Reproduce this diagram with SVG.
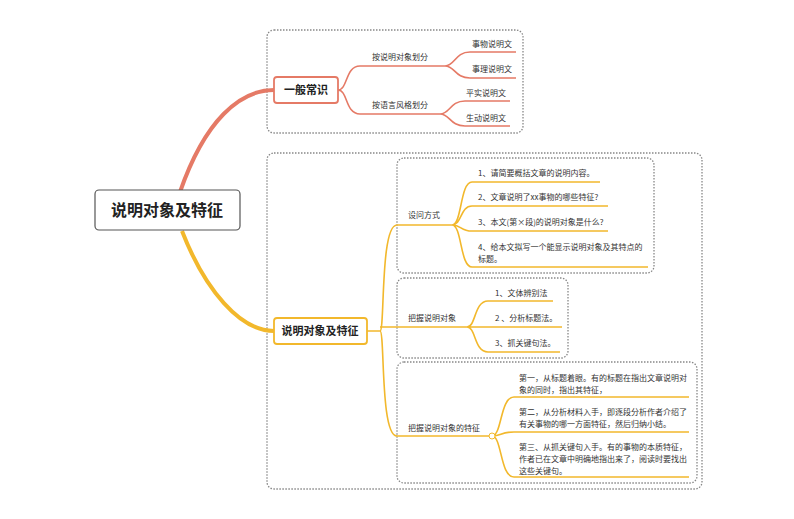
<svg xmlns="http://www.w3.org/2000/svg" width="794" height="519" viewBox="0 0 794 519">
<style>
text{font-family:"Noto Sans CJK SC","Noto Sans",sans-serif;fill:#333;font-size:8px}
.grp{fill:none;stroke:#888;stroke-width:1.3;stroke-dasharray:1.5 1.5}
.r{fill:none;stroke:#e57a66;stroke-width:1.6}
.o{fill:none;stroke:#f2b82c;stroke-width:1.6}
.big{font-size:11px;font-weight:bold;fill:#222}
</style>
<rect width="794" height="519" fill="#fff"/>
<g id="groups">
<rect class="grp" x="267" y="30" width="256" height="103" rx="7"/>
<rect class="grp" x="267" y="153" width="435" height="336" rx="7"/>
<rect class="grp" x="397" y="158" width="257" height="115" rx="7"/>
<rect class="grp" x="397" y="278" width="171" height="80" rx="7"/>
<rect class="grp" x="397" y="362" width="300" height="121" rx="7"/>
</g>
<g id="connectors">
<path d="M180 192 C205 120 240 90 274 90" fill="none" stroke="#e57a66" stroke-width="4"/>
<path d="M182 231 C205 290 240 331 274 331" fill="none" stroke="#f2b82c" stroke-width="4"/>
<path class="r" d="M338 90 C348 90 345 66 360 66 L445 66 C455 66 455 52 470 52 L516 52 M445 66 C455 66 455 78 470 78 L516 78"/>
<path class="r" d="M338 90 C348 90 345 114 360 114 L440 114 C450 114 450 101 465 101 L510 101 M440 114 C450 114 450 126 465 126 L510 126"/>
<path class="o" d="M367 331 L380 331 M380 331 C385 331 380 225 397 225 L452 225 M380 331 C385 331 380 436 397 436 L492 436 M380 327 L467 327"/>
<path class="o" d="M452 225 C462 225 460 182 472 182 L600 182 M452 225 C462 225 460 206 472 206 L608 206 M452 225 C462 225 460 231 472 231 L608 231 M452 225 C462 225 460 267 472 267 L648 267"/>
<path class="o" d="M467 327 C476 327 474 301 488 301 L553 301 M467 327 L562 327 M467 327 C476 327 474 352 488 352 L560 352"/>
<path class="o" d="M492 436 C502 436 500 397 514 397 L689 397 M492 436 C502 436 500 432 514 432 L689 432 M492 436 C502 436 500 477 514 477 L689 477"/>
<circle cx="492" cy="436" r="3" fill="#fff" stroke="#f2b82c" stroke-width="1"/>
</g>
<g id="root"><rect x="95" y="190" width="145" height="40" rx="4" fill="#fff" stroke="#555" stroke-width="1.2"/><text x="167" y="216" text-anchor="middle" style="font-size:16px;font-weight:bold;fill:#222">说明对象及特征</text></g>
<g id="n1"><rect x="274" y="77" width="64" height="26" rx="3" fill="#fff" stroke="#e57a66" stroke-width="1.8"/><text class="big" x="306" y="94" text-anchor="middle">一般常识</text></g>
<g id="n2"><rect x="274" y="318" width="93" height="26" rx="3" fill="#fff" stroke="#f2b82c" stroke-width="1.8"/><text class="big" x="320" y="335" text-anchor="middle">说明对象及特征</text></g>
<g id="labels">
<text x="372" y="60">按说明对象划分</text>
<text x="472" y="47">事物说明文</text>
<text x="472" y="72">事理说明文</text>
<text x="372" y="108">按语言风格划分</text>
<text x="466" y="96">平实说明文</text>
<text x="466" y="121">生动说明文</text>
<text x="408" y="218">设问方式</text>
<text x="478" y="176">1、请简要概括文章的说明内容。</text>
<text x="478" y="200">2、文章说明了xx事物的哪些特征?</text>
<text x="478" y="225">3、本文(第×段)的说明对象是什么?</text>
<text x="478" y="250">4、给本文拟写一个能显示说明对象及其特点的</text>
<text x="478" y="262">标题。</text>
<text x="408" y="321">把握说明对象</text>
<text x="495" y="296">1、文体辨别法</text>
<text x="495" y="321">2 、分析标题法。</text>
<text x="495" y="346">3、抓关键句法。</text>
<text x="408" y="431">把握说明对象的特征</text>
<text x="519" y="381">第一，从标题着眼。有的标题在指出文章说明对</text>
<text x="519" y="393">象的同时，指出其特征，</text>
<text x="519" y="415">第二，从分析材料入手，即逐段分析作者介绍了</text>
<text x="519" y="427">有关事物的哪一方面特征，然后归纳小结。</text>
<text x="519" y="450">第三、从抓关键句入手。有的事物的本质特征，</text>
<text x="519" y="462">作者已在文章中明确地指出来了，阅读时要找出</text>
<text x="519" y="474">这些关键句。</text>
</g>
</svg>
